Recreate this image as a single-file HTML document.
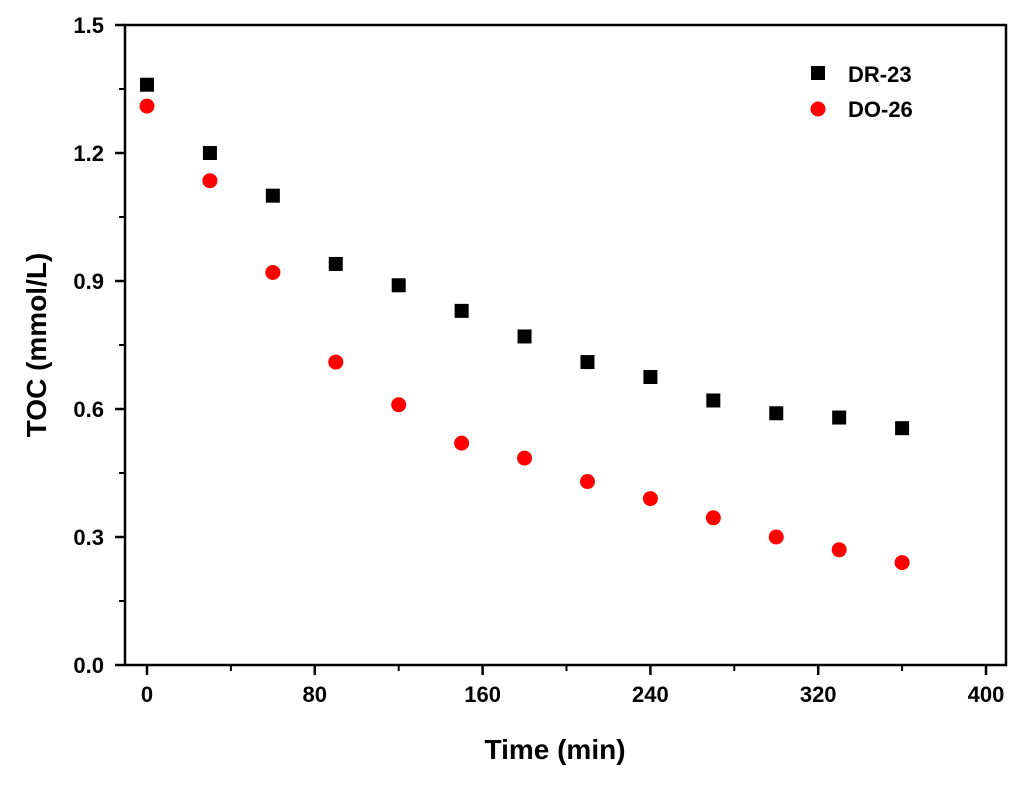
<!DOCTYPE html>
<html><head><meta charset="utf-8"><style>
body{margin:0;background:#fff}
svg text{font-family:"Liberation Sans",Arial,sans-serif;font-weight:bold}
</style></head><body>
<svg width="1024" height="781" viewBox="0 0 1024 781">
<rect x="125" y="25" width="881" height="640" fill="none" stroke="#000" stroke-width="2.5"/>
<g id="ticks"></g>
<g id="marks"></g>
<text x="555" y="759" font-size="28" text-anchor="middle">Time (min)</text>
<text transform="translate(46,345) rotate(-90)" font-size="28" text-anchor="middle">TOC (mmol/L)</text>
<g>
<rect x="811" y="66" width="14" height="14" fill="#000"/>
<text x="848" y="82" font-size="22">DR-23</text>
<circle cx="818" cy="109" r="7.5" fill="#f00"/>
<text x="848" y="117" font-size="22">DO-26</text>
</g>
</svg>
<script>
const times=[0,30,60,90,120,150,180,210,240,270,300,330,360];
const dr23=[1.36,1.20,1.10,0.94,0.89,0.83,0.77,0.71,0.675,0.62,0.59,0.58,0.555];
const do26=[1.31,1.135,0.92,0.71,0.61,0.52,0.485,0.43,0.39,0.345,0.30,0.27,0.24];
const xTicks=[0,80,160,240,320,400];
const yTicks=[0.0,0.3,0.6,0.9,1.2,1.5];
const yLabels=["0.0","0.3","0.6","0.9","1.2","1.5"];
const NS="http://www.w3.org/2000/svg";
const X=v=>147+v*(986-147)/400;
const Y=v=>665-v*(640/1.5);
function mk(t,a,p){const e=document.createElementNS(NS,t);for(const k in a)e.setAttribute(k,a[k]);p.appendChild(e);return e;}
const tg=document.getElementById('ticks'),mg=document.getElementById('marks');
xTicks.forEach((v,i)=>{
 const l=mk('line',{x1:X(v),x2:X(v),y1:665,y2:675,stroke:'#000','stroke-width':2.5},tg);
 
 
 if(i<xTicks.length-1){const m=mk('line',{x1:X(v+40),x2:X(v+40),y1:665,y2:671,stroke:'#000','stroke-width':2},tg);
 
 }
 const t=mk('text',{x:X(v),y:702,'font-size':22,'text-anchor':'middle'},tg);t.textContent=v;
 
 
});
yTicks.forEach((v,i)=>{
 const l=mk('line',{x1:115,x2:125,y1:Y(v),y2:Y(v),stroke:'#000','stroke-width':2.5},tg);
 
 
 if(i<yTicks.length-1){const m=mk('line',{x1:119,x2:125,y1:Y(v+0.15),y2:Y(v+0.15),stroke:'#000','stroke-width':2},tg);
 
 }
 const t=mk('text',{x:104,y:Y(v)+8,'font-size':22,'text-anchor':'end'},tg);t.textContent=yLabels[i];
 
 
});
times.forEach((t,i)=>{
 const r=mk('rect',{x:X(t)-7,y:Y(dr23[i])-7,width:14,height:14,fill:'#000'},mg);
 
 
 const c=mk('circle',{cx:X(t),cy:Y(do26[i]),r:7.5,fill:'#f00'},mg);
 
 
});
</script>
</body></html>
